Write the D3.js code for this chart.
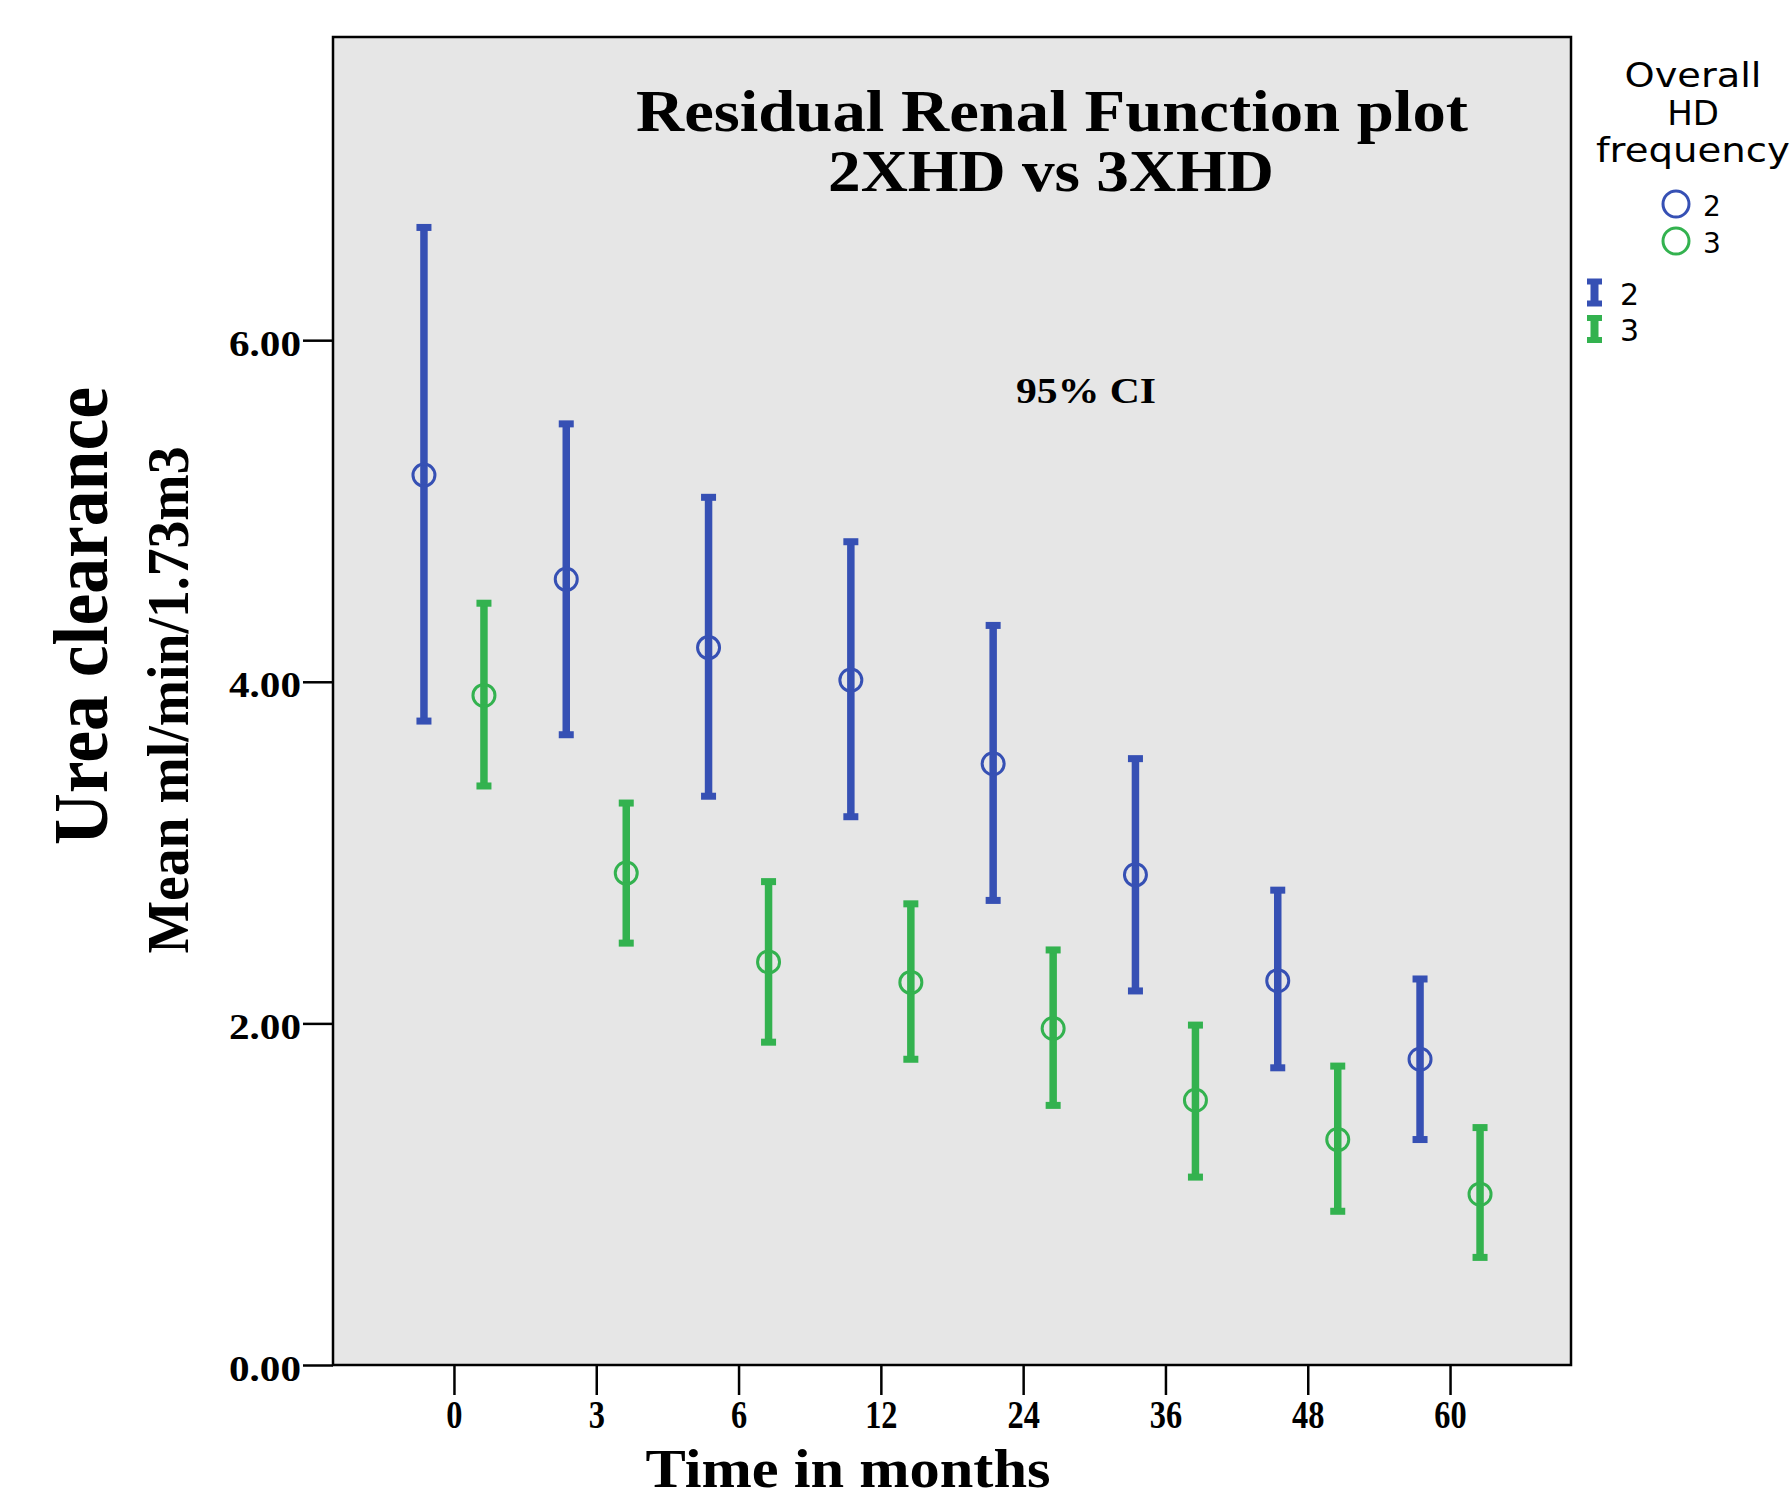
<!DOCTYPE html>
<html>
<head>
<meta charset="utf-8">
<script src="https://cdn.jsdelivr.net/npm/d3@7/dist/d3.min.js"></script>
<style>
  body { margin: 0; background: #fff; }
  svg { display: block; }
</style>
</head>
<body>
<script>
// data
var times = ["0", "3", "6", "12", "24", "36", "48", "60"];
var groups = ["2", "3"];

var mean2  = [5.21, 4.60, 4.20, 4.01, 3.52, 2.87, 2.25, 1.79];
var upper2 = [6.66, 5.51, 5.08, 4.82, 4.33, 3.55, 2.78, 2.26];
var lower2 = [3.77, 3.69, 3.33, 3.21, 2.72, 2.19, 1.74, 1.32];

var mean3  = [3.92, 2.88, 2.36, 2.24, 1.97, 1.55, 1.32, 1.00];
var upper3 = [4.46, 3.29, 2.83, 2.70, 2.43, 1.99, 1.75, 1.39];
var lower3 = [3.39, 2.47, 1.89, 1.79, 1.52, 1.10, 0.90, 0.63];

var yTicks = [0, 2, 4, 6];

var width = 1792, height = 1499;
var plot = {left: 333, right: 1571, top: 37, bottom: 1365};
var colors = {"2": "#3650b4", "3": "#33b24f"};
var serif = "'Liberation Serif', 'Times New Roman', serif";
var sans = "'DejaVu Sans', sans-serif";

var svg = d3.select("body").append("svg").attr("width", width).attr("height", height);

var x = d3.scalePoint().domain(times).range([plot.left, plot.right]).padding(0.85);
var offset = d3.scalePoint().domain(groups).range([-30, 30]);
var y = d3.scaleLinear().domain([0, 7.775]).range([plot.bottom, plot.top]);

var rows = [];
times.forEach(function(t, i){
  rows.push({t: t, g: "2", mean: mean2[i], lo: lower2[i], hi: upper2[i]});
  rows.push({t: t, g: "3", mean: mean3[i], lo: lower3[i], hi: upper3[i]});
});

// background
svg.append("rect")
  .attr("x", plot.left).attr("y", plot.top)
  .attr("width", plot.right - plot.left).attr("height", plot.bottom - plot.top)
  .attr("fill", "#e6e6e6");

// error bars
var bars = svg.append("g").selectAll("g.bar")
  .data(rows)
  .enter().append("g")
    .attr("class", "bar")
    .attr("transform", function(d){ return "translate(" + (x(d.t) + offset(d.g)) + ",0)"; });

bars.append("line")
  .attr("x1", 0).attr("x2", 0)
  .attr("y1", function(d){ return y(d.hi); })
  .attr("y2", function(d){ return y(d.lo); })
  .attr("stroke", function(d){ return colors[d.g]; })
  .attr("stroke-width", 7.5);

bars.selectAll("rect.cap")
  .data(function(d){ return [{v: d.hi, g: d.g}, {v: d.lo, g: d.g}]; })
  .enter().append("rect")
    .attr("class", "cap")
    .attr("x", -7.5).attr("width", 15)
    .attr("y", function(d){ return y(d.v) - 3.5; })
    .attr("height", 7)
    .attr("fill", function(d){ return colors[d.g]; });

bars.append("circle")
  .attr("cx", 0)
  .attr("cy", function(d){ return y(d.mean); })
  .attr("r", 11)
  .attr("fill", "none")
  .attr("stroke", function(d){ return colors[d.g]; })
  .attr("stroke-width", 3);

// frame
svg.append("rect")
  .attr("x", plot.left).attr("y", plot.top)
  .attr("width", plot.right - plot.left).attr("height", plot.bottom - plot.top)
  .attr("fill", "none").attr("stroke", "#000").attr("stroke-width", 2.5);

// axes
var yAxis = svg.append("g")
  .attr("transform", "translate(" + plot.left + ",0)")
  .call(d3.axisLeft(y).tickValues(yTicks).tickSize(30).tickPadding(2).tickFormat(d3.format(".2f")));

var xAxis = svg.append("g")
  .attr("transform", "translate(0," + plot.bottom + ")")
  .call(d3.axisBottom(x).tickSize(30).tickPadding(5));

[yAxis, xAxis].forEach(function(a){
  a.select(".domain").remove();
  a.selectAll(".tick line").attr("stroke", "#000").attr("stroke-width", 2.5);
  a.selectAll(".tick text")
    .attr("fill", "#000")
    .attr("font-family", serif)
    .attr("font-weight", "bold");
});

yAxis.selectAll(".tick text")
  .attr("font-size", 36)
  .attr("dy", "0.42em")
  .attr("textLength", 72)
  .attr("lengthAdjust", "spacingAndGlyphs");

xAxis.selectAll(".tick text")
  .attr("font-size", 39)
  .each(function(){
    var len = this.getComputedTextLength();
    d3.select(this).attr("textLength", len * 0.83).attr("lengthAdjust", "spacingAndGlyphs");
  });

// texts
function label(txt, px, py, size, len, rot){
  var t = svg.append("text")
    .attr("transform", "translate(" + px + "," + py + ")" + (rot ? " rotate(-90)" : ""))
    .attr("text-anchor", "middle")
    .attr("font-family", serif)
    .attr("font-weight", "bold")
    .attr("font-size", size)
    .attr("fill", "#000")
    .text(txt);
  if (len) t.attr("textLength", len).attr("lengthAdjust", "spacingAndGlyphs");
  return t;
}

label("Residual Renal Function plot", 1052, 131, 59, 832);
label("2XHD vs 3XHD", 1051, 191, 59, 446);
label("95% CI", 1086, 403, 36, 140);
label("Time in months", 848, 1487, 55, 405);
label("Urea clearance", 107, 616, 78, 458, true);
label("Mean ml/min/1.73m3", 188, 700, 60, 507, true);

// legend
var legend = svg.append("g");
var legendTitle = [["Overall", 87, 137], ["HD", 125, 0], ["frequency", 162, 194]];
legendTitle.forEach(function(l){
  var t = legend.append("text")
    .attr("x", 1693).attr("y", l[1])
    .attr("text-anchor", "middle")
    .attr("font-family", sans)
    .attr("font-size", 34)
    .attr("fill", "#000")
    .text(l[0]);
  if (l[2]) t.attr("textLength", l[2]).attr("lengthAdjust", "spacingAndGlyphs");
});

var ly = d3.scalePoint().domain(groups).range([204, 241]);
groups.forEach(function(g){
  legend.append("circle")
    .attr("cx", 1676).attr("cy", ly(g)).attr("r", 13)
    .attr("fill", "none").attr("stroke", colors[g]).attr("stroke-width", 3);
  legend.append("text")
    .attr("x", 1703).attr("y", ly(g) + 12)
    .attr("font-family", sans).attr("font-size", 28).attr("fill", "#000")
    .text(g);
});

var lb = d3.scalePoint().domain(groups).range([292.5, 329]);
groups.forEach(function(g){
  var c = lb(g);
  legend.append("rect").attr("x", 1590.5).attr("y", c - 13).attr("width", 8).attr("height", 26).attr("fill", colors[g]);
  legend.append("rect").attr("x", 1587).attr("y", c - 14).attr("width", 15).attr("height", 6).attr("fill", colors[g]);
  legend.append("rect").attr("x", 1587).attr("y", c + 8).attr("width", 15).attr("height", 6).attr("fill", colors[g]);
  legend.append("text")
    .attr("x", 1620).attr("y", c + 12)
    .attr("font-family", sans).attr("font-size", 30).attr("fill", "#000")
    .text(g);
});
</script>
</body>
</html>
